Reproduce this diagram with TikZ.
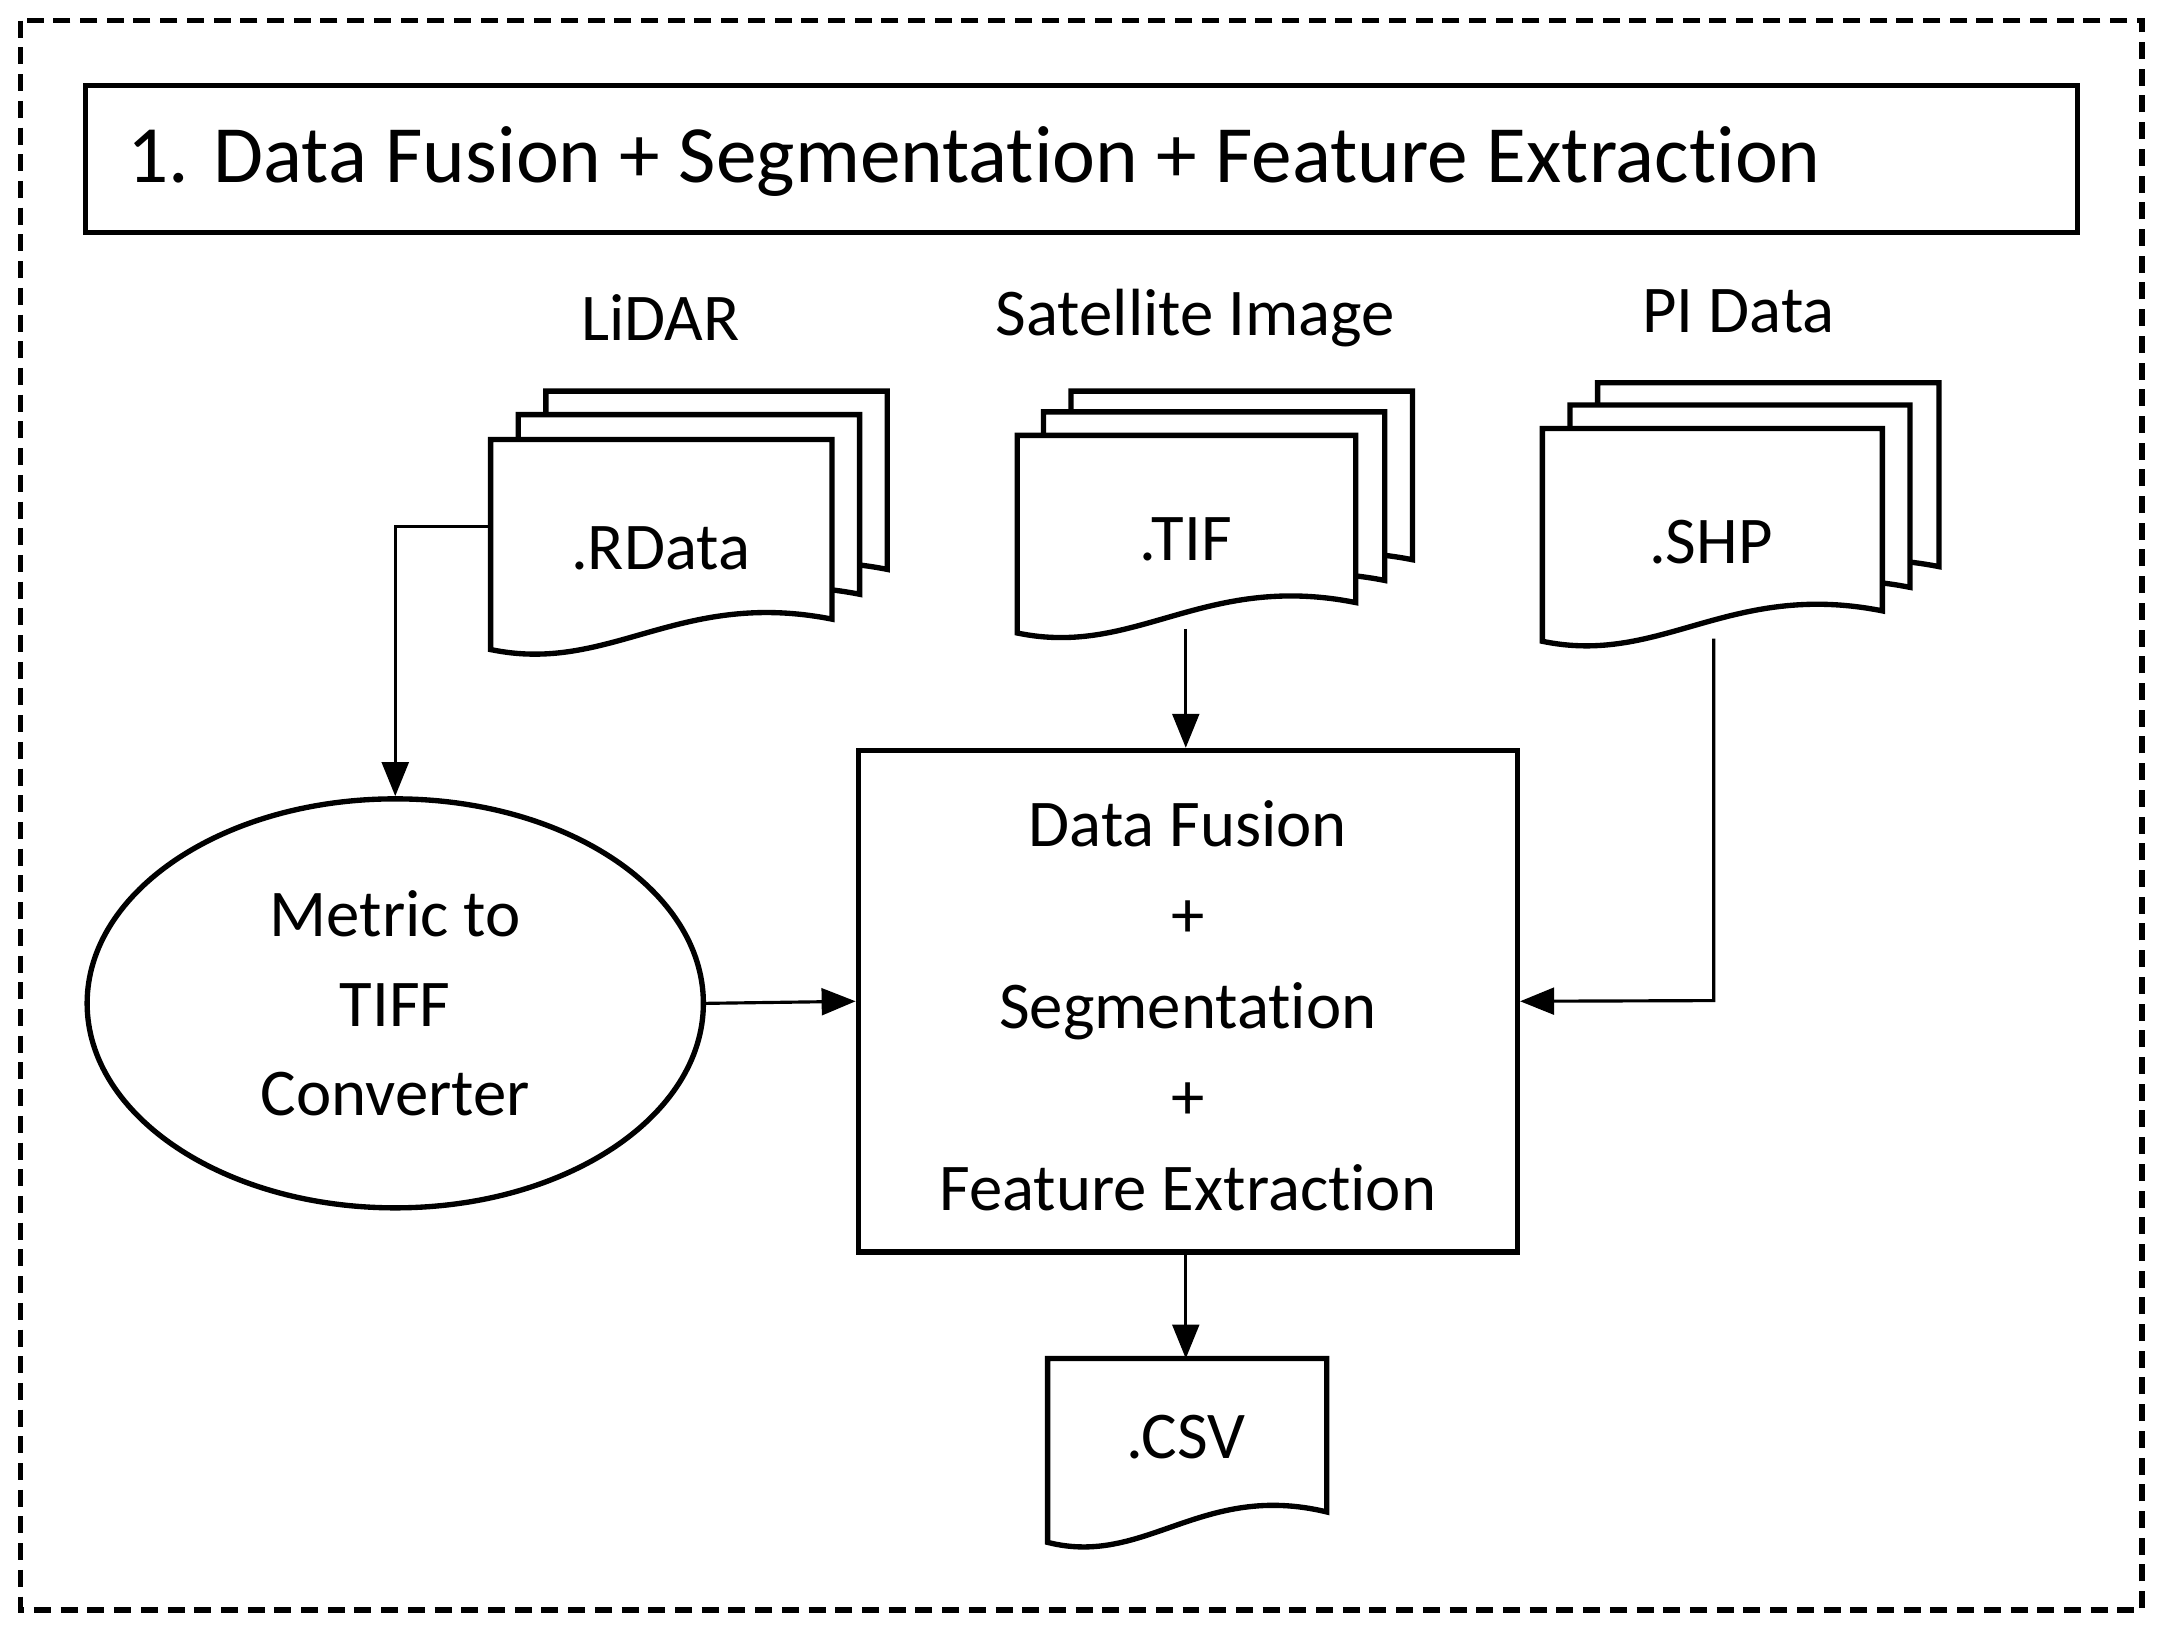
\documentclass[tikz,border=0pt]{standalone}
\usepackage{fontspec}
\setmainfont[Ligatures=NoCommon]{Carlito}
\usetikzlibrary{arrows.meta,shapes.geometric}
\tikzset{
  ln/.style={line width=2.2pt},
  arr/.style={line width=1.3pt,-{Triangle[length=14pt,width=11pt]}},
  lbl/.style={font=\fontsize{27.5}{33}\selectfont},
}
% doc shape: x1 y1 x2 y2 (y2 = right bottom)
\newcommand{\mydoc}[4]{%
  \draw[ln,fill=white] (#1,#2) -- (#3,#2) -- (#3,#4)
    .. controls ({#1+0.55*(#3-#1)},{#4-22}) and ({#1+0.35*(#3-#1)},{#4+40}) .. (#1,{#4+22}) -- cycle;}
\begin{document}
\begin{tikzpicture}[x=0.02cm,y=-0.02cm]
\useasboundingbox (0,0) rectangle (1568,1180);
\draw[line width=2.2pt,dash pattern=on 7pt off 4pt] (15,15) rectangle (1550,1165);
\draw[ln] (62,62) rectangle (1503,168);
\node[anchor=west,font=\fontsize{33.5}{38}\selectfont] (title) at (86,117) {1. Data Fusion + Segmentation + Feature Extraction};
% LiDAR
\node[lbl] (lidar) at (478,230) {LiDAR};
\mydoc{395}{283}{642}{412}
\mydoc{375}{300}{622}{430}
\mydoc{355}{318}{602}{448}
\node[lbl] (rdata) at (478,397) {.RData};
\coordinate (rdl) at (355,381);
% Satellite
\node[lbl] (sat) at (865,230) {Satellite Image};
\mydoc{775}{283}{1022}{405}
\mydoc{755}{298}{1002}{420}
\mydoc{736}{315}{981}{436}
\node[lbl] (tif) at (858,390) {.TIF};
\coordinate (tifb) at (858,455);
% PI
\node[lbl] (pi) at (1258,225) {PI Data};
\mydoc{1156}{277}{1403}{410}
\mydoc{1136}{293}{1382}{425}
\mydoc{1116}{310}{1362}{442}
\node[lbl] (shp) at (1238,392) {.SHP};
\coordinate (shpb) at (1240,462);
% ellipse
\node[ellipse,ln,draw,inner sep=0pt,
  minimum width=8.92cm,minimum height=5.92cm,lbl,align=center] (conv) at (286,726)
  {Metric to\\[4pt]TIFF\\[4pt]Converter};
% box
\node[draw,ln,minimum width=9.54cm,minimum height=7.26cm,lbl,align=center] (fusion) at (859.5,724.5) {};
\node[lbl,align=center] (ftext) at (859.5,728)
  {Data Fusion\\[4.5pt]+\\[4.5pt]Segmentation\\[4.5pt]+\\[4.5pt]Feature Extraction};
% csv
\mydoc{758}{983}{960}{1094}
\node[lbl] (csv) at (858,1040) {.CSV};
\coordinate (csvt) at (858,983);
% arrows
\draw[arr] (rdl) -- (286,381) -- (conv.north);
\draw[arr] (tifb) -- (fusion.north -| tifb);
\draw[arr] (conv.east) -- (fusion.west);
\draw[arr] (shpb) -- (1240,724) -- (fusion.east);
\draw[arr] (fusion.south -| csvt) -- (csvt);
\end{tikzpicture}
\end{document}
